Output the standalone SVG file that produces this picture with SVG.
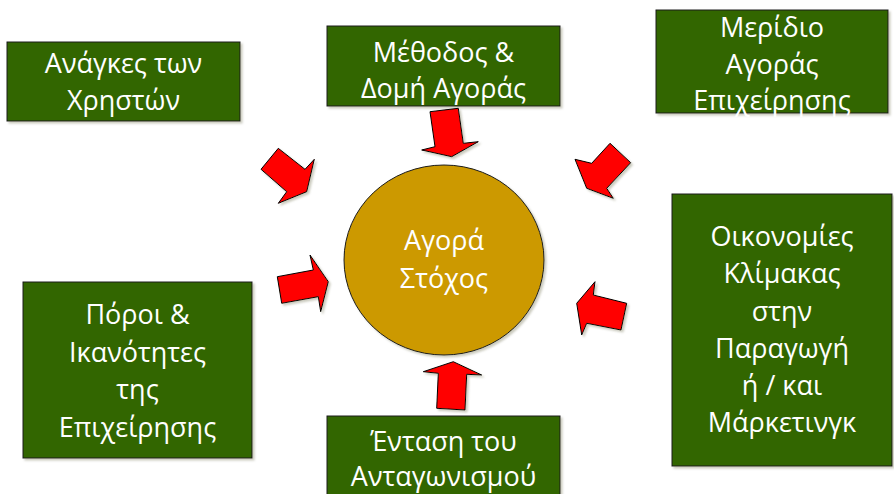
<svg xmlns="http://www.w3.org/2000/svg" width="894" height="494" viewBox="0 0 894 494">
<defs>
<filter id="sh" x="-10%" y="-10%" width="130%" height="130%">
<feDropShadow dx="2" dy="2" stdDeviation="1" flood-color="#8a8a70" flood-opacity="0.45"/>
</filter>
</defs>
<style>
.box{fill:#336600;stroke:#1a1a1a;stroke-width:1;filter:url(#sh)}
.circ{fill:#CC9900;stroke:#1a1a1a;stroke-width:1;filter:url(#sh)}
.arr{fill:#FF0000;stroke:#000;stroke-width:1;stroke-linejoin:miter;filter:url(#sh)}
text{font-family:"Open Sans","Noto Sans","DejaVu Sans",sans-serif;font-size:27px;fill:#fff;text-anchor:middle}
</style>
<rect width="894" height="494" fill="#fff"/>
<g id="needs">
<rect class="box" x="7" y="42" width="233" height="79"/>
<text x="123.5" y="73">Ανάγκες των</text>
<text x="123.5" y="110">Χρηστών</text>
</g>
<g id="method">
<rect class="box" x="327" y="26" width="233" height="80"/>
<text x="443.5" y="62">Μέθοδος &amp;</text>
<text x="443.5" y="98">Δομή Αγοράς</text>
</g>
<g id="share">
<rect class="box" x="656" y="10" width="232" height="103"/>
<text x="772" y="37">Μερίδιο</text>
<text x="772" y="74">Αγοράς</text>
<text x="772" y="110">Επιχείρησης</text>
</g>
<g id="economies">
<rect class="box" x="672" y="194" width="220" height="272"/>
<text x="782" y="246">Οικονομίες</text>
<text x="782" y="283">Κλίμακας</text>
<text x="782" y="320.5">στην</text>
<text x="782" y="358">Παραγωγή</text>
<text x="782" y="395">ή / και</text>
<text x="782" y="432">Μάρκετινγκ</text>
</g>
<g id="resources">
<rect class="box" x="23" y="282" width="229" height="176"/>
<text x="137.5" y="324">Πόροι &amp;</text>
<text x="137.5" y="361.5">Ικανότητες</text>
<text x="137.5" y="399">της</text>
<text x="137.5" y="436.5">Επιχείρησης</text>
</g>
<g id="competition">
<rect class="box" x="327" y="416" width="233" height="82"/>
<text x="443.5" y="451">Ένταση του</text>
<text x="443.5" y="486">Ανταγωνισμού</text>
</g>
<g id="target">
<ellipse class="circ" cx="444" cy="260" rx="100" ry="95"/>
<text x="444" y="250">Αγορά</text>
<text x="444" y="288">Στόχος</text>
</g>
<g id="connectors">
<polygon class="arr" points="261,169.3 278.3,148.3 305,169.3 314.3,159.3 306.7,191.7 278.3,203.3 286.7,191.7"/>
<polygon class="arr" points="430,111.7 458.3,108.3 463.3,143.3 478.3,141.7 451.7,156.7 421.7,150 435,146.7"/>
<polygon class="arr" points="610,143.3 630.7,162.7 606.7,188.3 613.3,198.3 586.7,188.3 575,159.3 591.7,163.3"/>
<polygon class="arr" points="277.3,276.7 313.3,270 310,255 328.3,281.7 320.7,311.7 318.3,296.7 281.7,303.3"/>
<polygon class="arr" points="576.7,303.3 595,281.7 593.3,295 626.7,303.3 621,330 586.7,323.3 581.7,335"/>
<polygon class="arr" points="453.3,361.7 481.7,375 466.7,374.3 465,410 436.7,408.3 438.3,373.3 423.3,371.7"/>
</g>
</svg>
